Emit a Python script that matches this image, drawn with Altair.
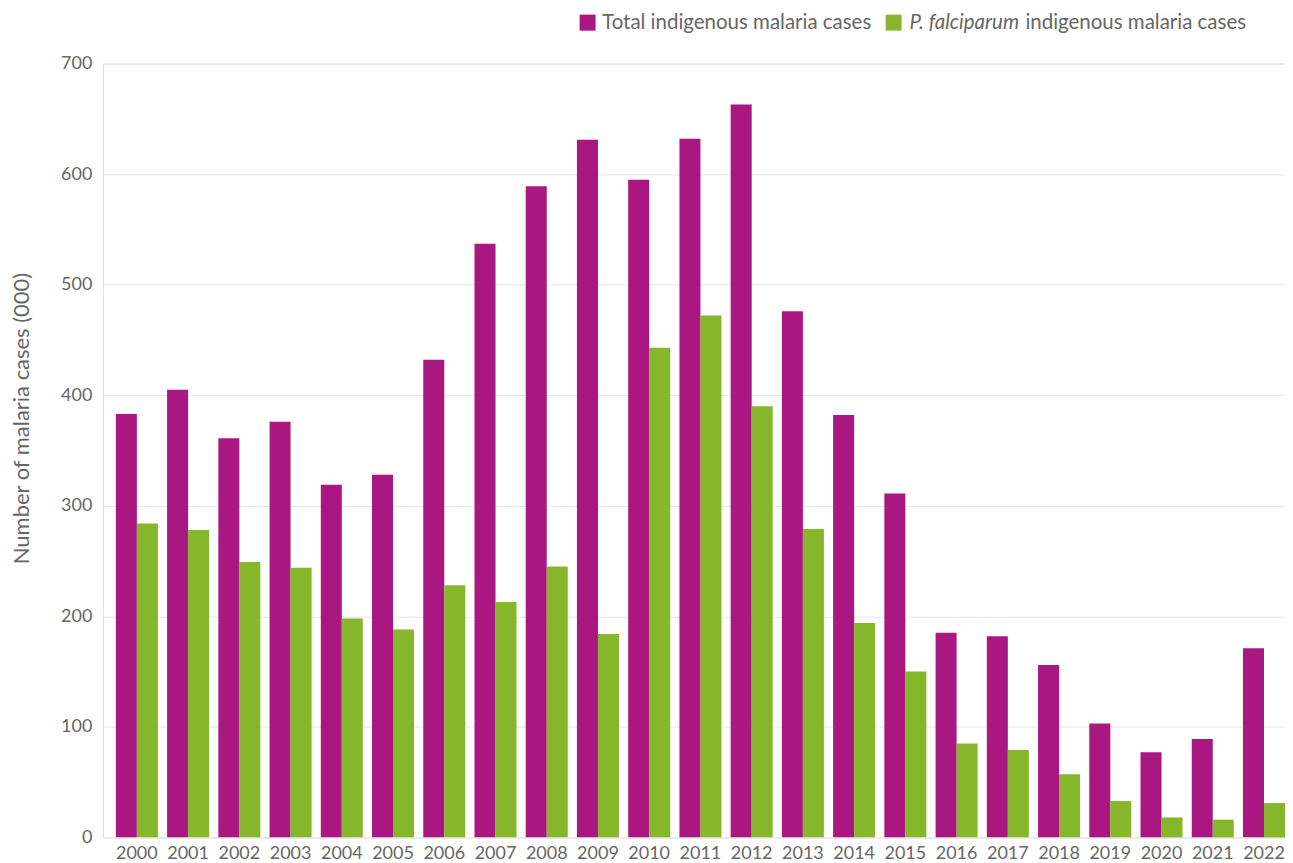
import altair as alt
import pandas as pd

YEARS = ["2000", "2001", "2002", "2003", "2004", "2005", "2006", "2007", "2008", "2009", "2010", "2011",
         "2012", "2013", "2014", "2015", "2016", "2017", "2018", "2019", "2020", "2021", "2022"]
TOTAL = [383, 405, 361, 376, 319, 328, 432, 537, 589, 631, 595, 632,
         663, 476, 382, 311, 185, 182, 156, 103, 77, 89, 171]
PF = [284, 278, 249, 244, 198, 188, 228, 213, 245, 184, 443, 472,
      390, 279, 194, 150, 85, 79, 57, 33, 18, 16, 31]
SERIES = ["Total indigenous malaria cases", "P. falciparum indigenous malaria cases"]
COLORS = ["#AA1780", "#86B62A"]
Y_TICKS = [0, 100, 200, 300, 400, 500, 600, 700]

FONT = "Lato"
GREY = "#666666"

df = pd.DataFrame({
    "year": YEARS * 2,
    "series": [SERIES[0]] * len(YEARS) + [SERIES[1]] * len(YEARS),
    "value": TOTAL + PF,
})

bars = alt.Chart(df).mark_bar().encode(
    x=alt.X("year:N", title=None, sort=YEARS,
            scale=alt.Scale(paddingInner=0.18, paddingOuter=0.127, align=1),
            axis=alt.Axis(labelAngle=0, ticks=False, domain=False, labelPadding=7,
                          labelFontSize=18, labelColor=GREY, labelFont=FONT, grid=False)),
    xOffset=alt.XOffset("series:N", sort=SERIES, scale=alt.Scale(paddingInner=0, paddingOuter=0)),
    y=alt.Y("value:Q", title="Number of malaria cases (000)",
            scale=alt.Scale(domain=[0, 700], nice=False),
            axis=alt.Axis(values=Y_TICKS, ticks=False, tickSize=0, domain=False, labelPadding=11,
                          labelFontSize=18, labelColor=GREY, labelFont=FONT,
                          grid=True, gridColor="#e6e6e6", gridWidth=1,
                          titleFont=FONT, titleFontSize=22, titleFontWeight="normal",
                          titleColor=GREY, titlePadding=27, titleY=355)),
    color=alt.Color("series:N", scale=alt.Scale(domain=SERIES, range=COLORS), legend=None),
)


def one(text):
    return alt.Chart(pd.DataFrame({"t": [text]}))


LEG_Y = -41
LEG_FS = 20.5
sq1 = one(SERIES[0]).mark_square(size=256, color=COLORS[0], opacity=1).encode(
    x=alt.value(485.5), y=alt.value(LEG_Y))
t1 = one("Total indigenous malaria cases").mark_text(
    align="left", baseline="middle", font=FONT, fontSize=LEG_FS, color=GREY).encode(
    x=alt.value(500), y=alt.value(LEG_Y), text="t:N")
sq2 = one(SERIES[1]).mark_square(size=256, color=COLORS[1], opacity=1).encode(
    x=alt.value(792), y=alt.value(LEG_Y))
t2 = one("P. falciparum").mark_text(
    align="left", baseline="middle", font=FONT, fontSize=LEG_FS, fontStyle="italic", color=GREY).encode(
    x=alt.value(808), y=alt.value(LEG_Y), text="t:N")
t3 = one("indigenous malaria cases").mark_text(
    align="left", baseline="middle", font=FONT, fontSize=LEG_FS, color=GREY).encode(
    x=alt.value(924), y=alt.value(LEG_Y), text="t:N")

chart = alt.layer(bars, sq1, t1, sq2, t2, t3).properties(
    width=1184, height=775,
    padding={"left": 2, "top": 4, "right": 0, "bottom": 0},
).configure_view(strokeWidth=0).configure(background="white")

chart.save("out.html", embed_options={"renderer": "svg", "actions": False})
